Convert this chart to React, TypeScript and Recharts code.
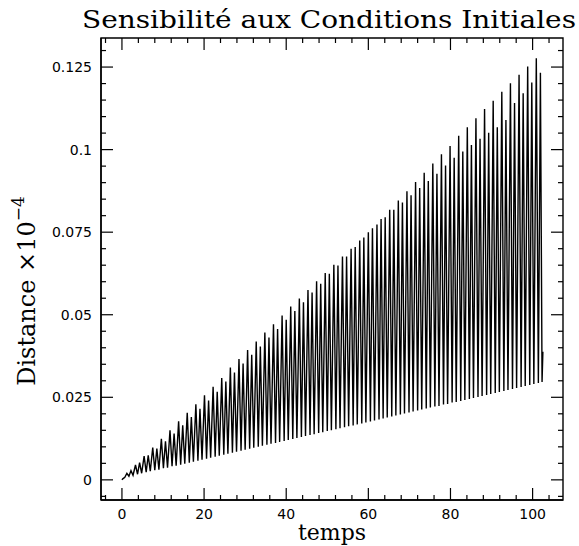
import React from 'react';
import { LineChart, Line, XAxis, YAxis, ReferenceArea } from 'recharts';

// peaks of the oscillation (temps, distance x1e-4)
const peakTimes = [
  0.2, 1.2, 2.2, 3.3, 4.3, 5.4, 6.4, 7.5, 8.5, 9.6,
  10.6, 11.7, 12.7, 13.8, 14.8, 15.9, 16.9, 18.0, 19.0, 20.1,
  21.1, 22.2, 23.2, 24.3, 25.3, 26.4, 27.4, 28.5, 29.5, 30.6,
  31.6, 32.7, 33.7, 34.8, 35.8, 36.9, 37.9, 39.0, 40.0, 41.1,
  42.1, 43.2, 44.2, 45.3, 46.3, 47.4, 48.4, 49.5, 50.5, 51.6,
  52.6, 53.7, 54.7, 55.8, 56.8, 57.9, 58.9, 60.0, 61.0, 62.1,
  63.1, 64.1, 65.2, 66.2, 67.3, 68.3, 69.4, 70.4, 71.5, 72.5,
  73.6, 74.6, 75.7, 76.7, 77.8, 78.8, 79.9, 80.9, 82.0, 83.0,
  84.1, 85.1, 86.2, 87.2, 88.3, 89.3, 90.4, 91.4, 92.5, 93.5,
  94.6, 95.6, 96.7, 97.7, 98.8, 99.8, 100.9, 101.9,
];
const peakValues = [
  0.0003, 0.0020, 0.0028, 0.0045, 0.0052, 0.0072, 0.0074, 0.0098, 0.0095, 0.0124,
  0.0117, 0.0150, 0.0140, 0.0177, 0.0165, 0.0203, 0.0190, 0.0229, 0.0215, 0.0256,
  0.0240, 0.0282, 0.0267, 0.0308, 0.0298, 0.0340, 0.0325, 0.0366, 0.0352, 0.0393,
  0.0379, 0.0419, 0.0404, 0.0446, 0.0431, 0.0471, 0.0457, 0.0498, 0.0485, 0.0525,
  0.0511, 0.0549, 0.0538, 0.0575, 0.0567, 0.0601, 0.0594, 0.0626, 0.0624, 0.0651,
  0.0649, 0.0676, 0.0676, 0.0700, 0.0705, 0.0725, 0.0734, 0.0750, 0.0762, 0.0773,
  0.0790, 0.0795, 0.0818, 0.0818, 0.0846, 0.0840, 0.0874, 0.0862, 0.0902, 0.0884,
  0.0930, 0.0905, 0.0958, 0.0927, 0.0986, 0.0952, 0.1011, 0.0975, 0.1042, 0.0994,
  0.1068, 0.1014, 0.1095, 0.1033, 0.1123, 0.1051, 0.1148, 0.1068, 0.1175, 0.1090,
  0.1201, 0.1141, 0.1227, 0.1171, 0.1252, 0.1203, 0.1277, 0.1233,
];

// troughs following each peak
const troughTimes = [
  0.7, 1.7, 2.7, 3.8, 4.8, 5.9, 6.9, 8.0, 9.0, 10.1,
  11.1, 12.2, 13.2, 14.3, 15.3, 16.4, 17.4, 18.5, 19.5, 20.6,
  21.6, 22.7, 23.7, 24.8, 25.8, 26.9, 27.9, 29.0, 30.0, 31.1,
  32.1, 33.2, 34.2, 35.3, 36.3, 37.4, 38.4, 39.5, 40.5, 41.6,
  42.6, 43.7, 44.7, 45.8, 46.8, 47.9, 48.9, 50.0, 51.0, 52.1,
  53.1, 54.2, 55.2, 56.3, 57.3, 58.4, 59.4, 60.5, 61.5, 62.6,
  63.6, 64.6, 65.7, 66.7, 67.8, 68.8, 69.9, 70.9, 72.0, 73.0,
  74.1, 75.1, 76.2, 77.2, 78.3, 79.3, 80.4, 81.4, 82.5, 83.5,
  84.6, 85.6, 86.7, 87.7, 88.8, 89.8, 90.9, 91.9, 93.0, 94.0,
  95.1, 96.1, 97.2, 98.2, 99.3, 100.3, 101.4, 102.3,
];
const troughValues = [
  0.0008, 0.0011, 0.0014, 0.0017, 0.0020, 0.0023, 0.0026, 0.0029, 0.0031, 0.0035,
  0.0037, 0.0041, 0.0043, 0.0046, 0.0049, 0.0052, 0.0055, 0.0058, 0.0061, 0.0064,
  0.0067, 0.0070, 0.0073, 0.0076, 0.0079, 0.0082, 0.0085, 0.0088, 0.0091, 0.0094,
  0.0097, 0.0100, 0.0103, 0.0106, 0.0109, 0.0112, 0.0115, 0.0118, 0.0121, 0.0124,
  0.0127, 0.0130, 0.0133, 0.0136, 0.0138, 0.0142, 0.0144, 0.0148, 0.0150, 0.0153,
  0.0156, 0.0159, 0.0162, 0.0165, 0.0168, 0.0171, 0.0174, 0.0177, 0.0180, 0.0183,
  0.0186, 0.0189, 0.0192, 0.0195, 0.0198, 0.0201, 0.0204, 0.0207, 0.0210, 0.0213,
  0.0216, 0.0219, 0.0222, 0.0224, 0.0228, 0.0230, 0.0234, 0.0236, 0.0239, 0.0242,
  0.0245, 0.0248, 0.0251, 0.0254, 0.0257, 0.0260, 0.0263, 0.0266, 0.0269, 0.0272,
  0.0275, 0.0278, 0.0281, 0.0284, 0.0287, 0.0290, 0.0293, 0.0296,
];

const startPoint = { t: 0, v: 0 };
const endPoint = { t: 102.5, v: 0.0388 };

const xTicks = [
  -4, 0, 4, 8, 12, 16, 20, 24, 28, 32, 36, 40, 44, 48, 52, 56, 60, 64, 68, 72, 76, 80, 84, 88,
  92, 96, 100, 104,
];
const yTicks = [
  -0.005, 0, 0.005, 0.01, 0.015, 0.02, 0.025, 0.03, 0.035, 0.04, 0.045, 0.05, 0.055, 0.06,
  0.065, 0.07, 0.075, 0.08, 0.085, 0.09, 0.095, 0.1, 0.105, 0.11, 0.115, 0.12, 0.125, 0.13,
];

const data: { t: number; v: number }[] = [startPoint];
peakTimes.forEach((t, i) => {
  data.push({ t, v: peakValues[i] });
  data.push({ t: troughTimes[i], v: troughValues[i] });
});
data.push(endPoint);

const isMajorX = (v: number) => Math.abs(v % 20) < 1e-6;
const isMajorY = (v: number) => Math.abs(v / 0.025 - Math.round(v / 0.025)) < 1e-6;
const fmtY = (v: number) => String(parseFloat(v.toFixed(3)));

// chart box
const W = 579;
const H = 546;
const M_TOP = 38;
const M_RIGHT = 16;
const X_AXIS_H = 46;
const Y_AXIS_W = 101;
const PLOT_W = W - Y_AXIS_W - M_RIGHT;
const PLOT_H = H - M_TOP - X_AXIS_H;

const MAJOR = 12;
const MINOR = 5;
const tickFont = { fontFamily: 'DejaVu Sans', fontSize: 14, fill: '#000' };

// bottom tick + matching inward tick on the top edge of the frame
const BottomTick = (props: any) => {
  const { x, y, payload } = props;
  const len = isMajorX(payload.value) ? MAJOR : MINOR;
  const top = y - PLOT_H;
  return (
    <g>
      <line x1={x} x2={x} y1={y} y2={y - len} stroke="#000" strokeWidth={1.2} />
      <line x1={x} x2={x} y1={top} y2={top + len} stroke="#000" strokeWidth={1.2} />
      {isMajorX(payload.value) && (
        <text x={x} y={y + 19} textAnchor="middle" {...tickFont}>
          {payload.value}
        </text>
      )}
    </g>
  );
};

// left tick + matching inward tick on the right edge
const LeftTick = (props: any) => {
  const { x, y, payload } = props;
  const len = isMajorY(payload.value) ? MAJOR : MINOR;
  const right = x + PLOT_W;
  return (
    <g>
      <line x1={x} x2={x + len} y1={y} y2={y} stroke="#000" strokeWidth={1.2} />
      <line x1={right} x2={right - len} y1={y} y2={y} stroke="#000" strokeWidth={1.2} />
      {isMajorY(payload.value) && (
        <text x={x - 9} y={y} dy="0.36em" textAnchor="end" {...tickFont}>
          {fmtY(payload.value)}
        </text>
      )}
    </g>
  );
};

const X_DOMAIN: [number, number] = [-5.1, 107.4];
const Y_DOMAIN: [number, number] = [-0.0061, 0.1338];
const axisLine = { stroke: '#000', strokeWidth: 1.4 };

export default function App() {
  return (
    <div style={{ position: 'absolute', left: 0, top: 0, width: W, height: H, background: '#fff' }}>
      <LineChart width={W} height={H} data={data} margin={{ top: M_TOP, right: M_RIGHT, bottom: 0, left: 0 }}>
        <XAxis
          type="number"
          dataKey="t"
          domain={X_DOMAIN}
          allowDataOverflow
          ticks={xTicks}
          interval={0}
          height={X_AXIS_H}
          tickSize={0}
          tickMargin={0}
          tickLine={false}
          axisLine={axisLine}
          tick={<BottomTick />}
        />
        <YAxis
          type="number"
          domain={Y_DOMAIN}
          allowDataOverflow
          ticks={yTicks}
          interval={0}
          width={Y_AXIS_W}
          tickSize={0}
          tickMargin={0}
          tickLine={false}
          axisLine={axisLine}
          tick={<LeftTick />}
        />
        <ReferenceArea
          x1={X_DOMAIN[0]}
          x2={X_DOMAIN[1]}
          y1={Y_DOMAIN[0]}
          y2={Y_DOMAIN[1]}
          fill="none"
          fillOpacity={0}
          stroke="#000"
          strokeWidth={1.4}
          ifOverflow="visible"
        />
        <Line
          type="linear"
          dataKey="v"
          stroke="#000"
          strokeWidth={1.4}
          dot={false}
          isAnimationActive={false}
        />
      </LineChart>
      <svg width={W} height={H} style={{ position: 'absolute', left: 0, top: 0, pointerEvents: 'none' }}>
        <text
          x={329}
          y={28}
          textAnchor="middle"
          fontFamily="DejaVu Serif"
          fontSize={25}
          textLength={494}
          lengthAdjust="spacingAndGlyphs"
          fill="#000"
        >
          Sensibilité aux Conditions Initiales
        </text>
        <text x={332} y={540} textAnchor="middle" fontFamily="DejaVu Serif" fontSize={22} fill="#000">
          temps
        </text>
        <text
          x={35}
          y={291}
          transform="rotate(-90 35 291)"
          textAnchor="middle"
          fontFamily="DejaVu Serif"
          fontSize={24}
          fill="#000"
        >
          Distance ×10
          <tspan dy={-11} fontSize={17}>
            −4
          </tspan>
        </text>
      </svg>
    </div>
  );
}
